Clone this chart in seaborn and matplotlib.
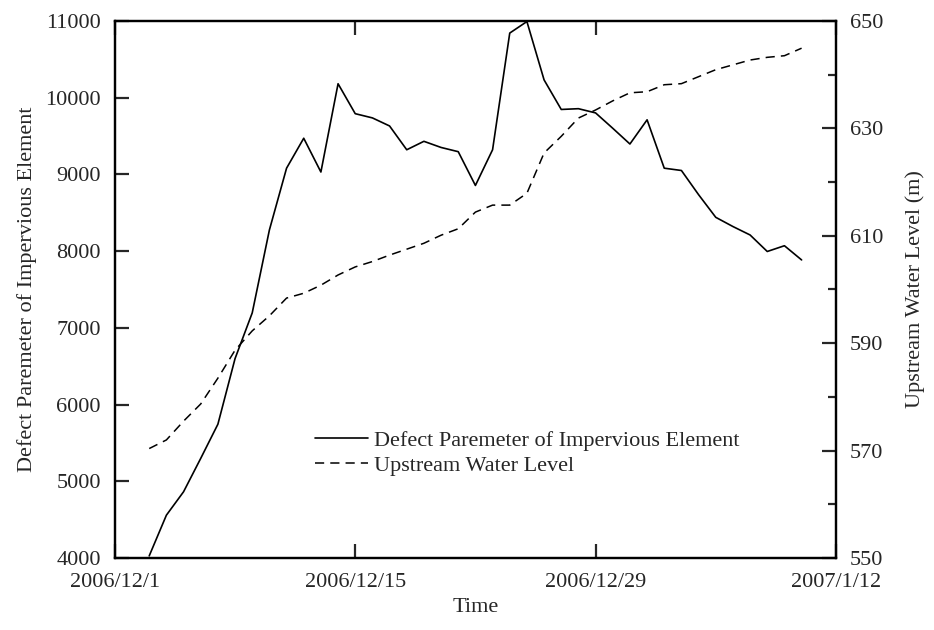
import pandas as pd
import matplotlib
matplotlib.use("Agg")
import matplotlib.pyplot as plt
import matplotlib.ticker as mticker
import matplotlib.dates as mdates
import seaborn as sns

# daily readings, 2006/12/3 .. 2007/1/10
dates = pd.date_range("2006-12-03", "2007-01-10", freq="D")
defect = [4030, 4560, 4865, 5300, 5745, 6600, 7195, 8275, 9080, 9470,
          9030, 10180, 9790, 9735, 9630, 9320, 9430, 9350, 9295, 8855,
          9320, 10840, 10990, 10230, 9845, 9855, 9800, 9600, 9395, 9710,
          9080, 9050, 8735, 8440, 8320, 8210, 7995, 8070, 7885]
water_level = [570.4, 572.0, 575.5, 578.7, 583.5, 588.7, 592.3, 595.1, 598.4, 599.3,
               600.8, 602.7, 604.2, 605.2, 606.4, 607.5, 608.6, 610.1, 611.3, 614.4,
               615.7, 615.7, 617.9, 625.4, 628.5, 631.9, 633.4, 635.1, 636.6, 636.8,
               638.1, 638.3, 639.6, 640.9, 641.8, 642.7, 643.2, 643.5, 644.9]
xticks = pd.to_datetime(["2006-12-01", "2006-12-15", "2006-12-29", "2007-01-12"])

df = pd.DataFrame({"date": dates, "defect": defect, "level": water_level})

sns.set_theme(style="ticks")
plt.rcParams["font.family"] = ["Liberation Serif", "DejaVu Serif"]
fs = 16

fig, ax = plt.subplots(figsize=(9.34, 6.3), dpi=100)
fig.subplots_adjust(left=0.123, right=0.895, top=0.967, bottom=0.114)
ax2 = ax.twinx()

sns.lineplot(data=df, x="date", y="defect", ax=ax, color="black", lw=1.2,
             label="Defect Paremeter of Impervious Element", legend=False)
sns.lineplot(data=df, x="date", y="level", ax=ax2, color="black", lw=1.1,
             linestyle=(0, (6, 4)), label="Upstream Water Level", legend=False)

ax.set_xlim(pd.Timestamp("2006-12-01"), pd.Timestamp("2007-01-12"))
ax.set_ylim(4000, 11000)
ax2.set_ylim(550, 650)
ax.set_xticks(xticks)
ax.xaxis.set_major_formatter(mticker.FuncFormatter(
    lambda v, p: (lambda d: f"{d.year}/{d.month}/{d.day}")(mdates.num2date(v))))
ax.set_yticks(range(4000, 11001, 1000))
ax2.set_yticks(range(550, 651, 20))
ax2.yaxis.set_minor_locator(mticker.MultipleLocator(10))

ax.set_xlabel("Time", fontsize=fs, labelpad=4)
ax.set_ylabel("Defect Paremeter of Impervious Element", fontsize=fs, labelpad=6)
ax2.set_ylabel("Upstream Water Level (m)", fontsize=fs, labelpad=16)

for a in (ax, ax2):
    for s in a.spines.values():
        s.set_linewidth(1.6)
        s.set_color("black")
ax.tick_params(axis="x", direction="in", length=10, width=1.6, top=True,
               labelsize=fs, pad=11)
ax.tick_params(axis="y", direction="in", length=10, width=1.6, labelsize=fs, pad=10)
ax2.tick_params(axis="y", which="major", direction="in", length=10, width=1.6,
                labelsize=fs, pad=10)
ax2.tick_params(axis="y", which="minor", direction="in", length=6, width=1.6)

h1, l1 = ax.get_legend_handles_labels()
h2, l2 = ax2.get_legend_handles_labels()
ax.legend(h1 + h2, l1 + l2, loc="upper left", bbox_to_anchor=(0.25, 0.275),
          frameon=False, fontsize=fs, handlelength=2.4, handletextpad=0.25,
          labelspacing=0.2)

fig.savefig("out.png", dpi=100)
